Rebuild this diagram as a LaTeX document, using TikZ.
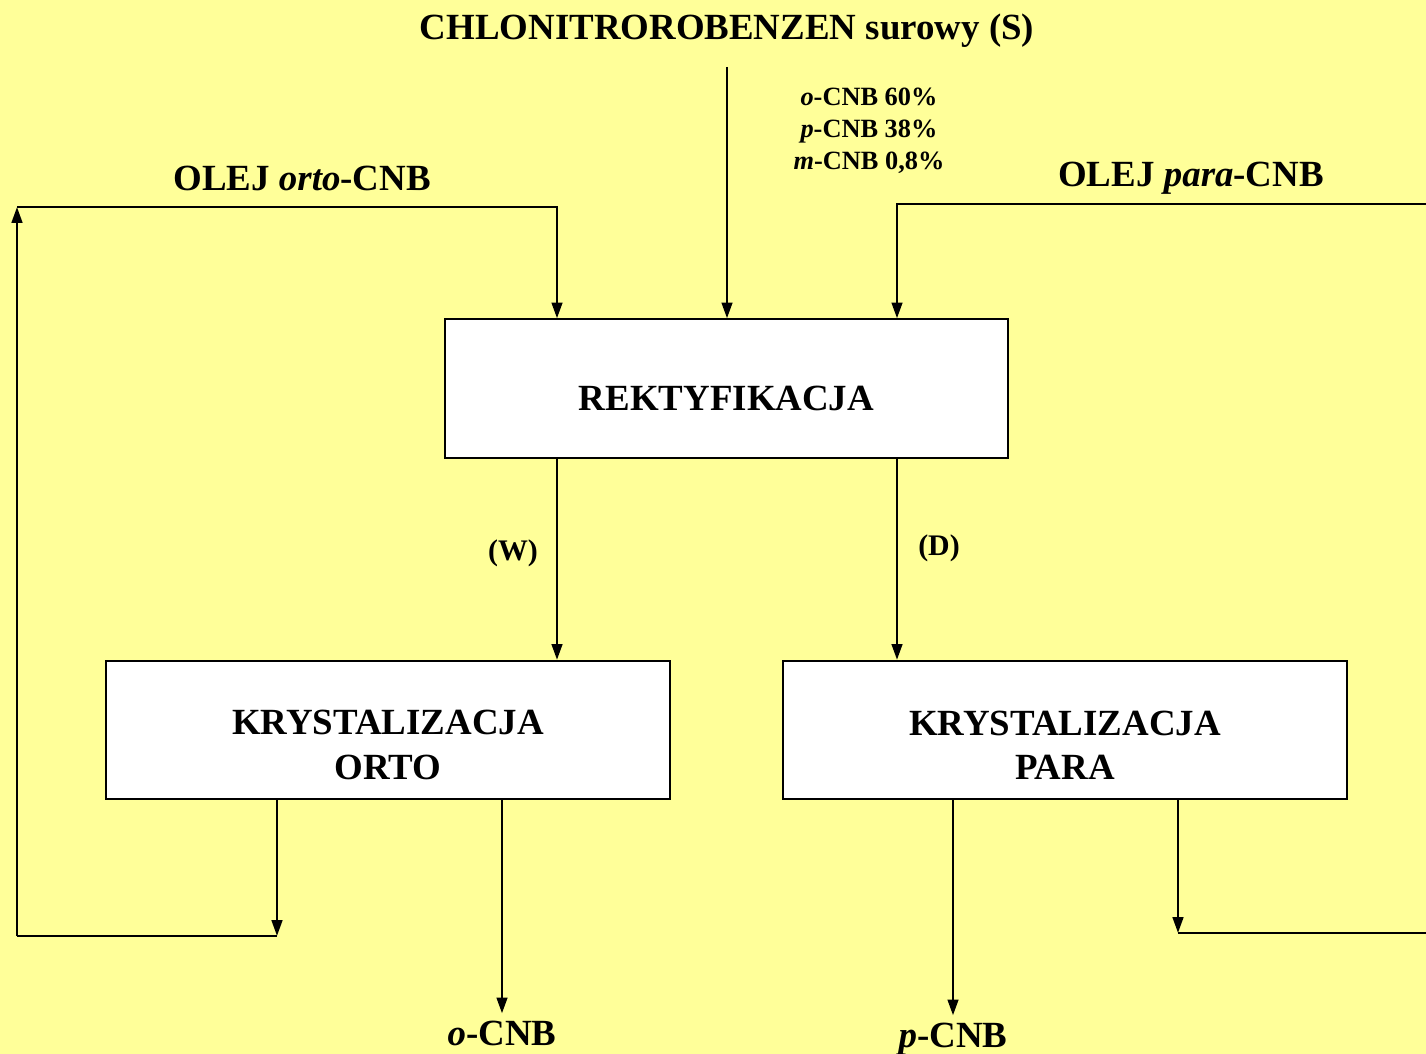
\documentclass[tikz,border=0pt]{standalone}
\usepackage{fontspec}
\setmainfont{Liberation Serif}
\usepackage{tikz}
\usetikzlibrary{positioning}
\usetikzlibrary{arrows.meta}
\definecolor{bgyellow}{HTML}{FFFF99}

\begin{document}
\begin{tikzpicture}[x=0.02cm,y=-0.02cm,>={Triangle[length=9pt,width=6pt]},
                    line width=1.5pt,font=\bfseries\fontsize{21}{25.6}\selectfont,
                    unit/.style={draw,fill=white,line width=1pt,minimum width=11.27cm,
                                 minimum height=2.77cm,inner sep=0pt,align=center},
                    comp/.style={font=\bfseries\fontsize{15}{18.2}\selectfont,align=center},
                    stream/.style={font=\bfseries\fontsize{17}{20}\selectfont}]
\fill[bgyellow] (0,0) rectangle (1426,1054);
\useasboundingbox (0,0) rectangle (1426,1054);

\node[unit,text height=0.89cm,text depth=0pt] (rek) at (726.5,388.5) {REKTYFIKACJA};
\node[unit] (ko) at (388,730) {\rule{0pt}{1.1cm}KRYSTALIZACJA\\ORTO};
\node[unit] (kp) at (1065,730) {\rule{0pt}{1.1cm}KRYSTALIZACJA\\PARA};

\node[anchor=base] (feed) at (727,40) {CHLONITROROBENZEN surowy (S)};
\node[comp] (sklad) at (869,131) {\textit{o}-CNB 60\%\\\textit{p}-CNB 38\%\\\textit{m}-CNB 0,8\%};
\node[anchor=base] (oorto) at (302,191) {OLEJ \textit{orto}-CNB};
\node[anchor=base] (opara) at (1191,187) {OLEJ \textit{para}-CNB};
\node[stream] (w) at (513,553) {(W)};
\node[stream] (d) at (939,548) {(D)};
\node[anchor=base] (ocnb) at (502,1045) {\textit{o}-CNB};
\node[anchor=base] (pcnb) at (953,1047) {\textit{p}-CNB};

\coordinate (wcol) at (557,0);
\coordinate (dcol) at (897,0);
\coordinate (sin) at (727,67);
\coordinate (orec1) at (277,936);
\coordinate (orec2) at (17,936);
\coordinate (orec3) at (17,207);
\coordinate (prec1) at (1178,933);
\coordinate (prec2) at (1426,933);
\coordinate (prec3) at (1426,204);

% feed and columns
\draw[->] (sin) -- (sin |- rek.north);
\draw[->] (rek.south -| wcol) -- (ko.north -| wcol);
\draw[->] (rek.south -| dcol) -- (kp.north -| dcol);
% products
\draw[->] (ko.south -| ocnb.north) -- (ocnb.north);
\draw[->] (kp.south -| pcnb.north) -- (pcnb.north);
% oil recycle orto
\draw[->] (ko.south -| orec1) -- (orec1);
\draw (orec1) -- (orec2);
\draw[->] (orec2) -- (orec3);
\draw[->] (orec3) -| (rek.north -| wcol);
% oil recycle para
\draw[->] (kp.south -| prec1) -- (prec1);
\draw (prec1) -- (prec2);
\draw[->] (prec3) -| (rek.north -| dcol);
\end{tikzpicture}
\end{document}
